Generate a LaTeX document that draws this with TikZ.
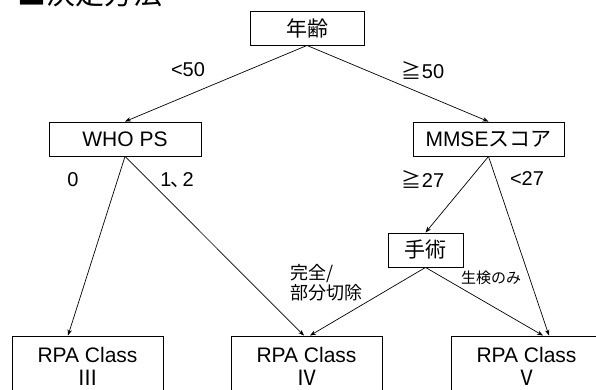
\documentclass[tikz,border=0pt]{standalone}
\usepackage{fontspec}
\setmainfont{Liberation Sans}
\newfontfamily\jp{Noto Sans CJK JP}
\usetikzlibrary{arrows.meta}
\begin{document}
\begin{tikzpicture}[x=1pt,y=-1pt,
  box/.style={draw=black,line width=0.9pt,inner sep=0pt,minimum height=34pt,font=\fontsize{21}{24}\selectfont},
  cbox/.style={draw=black,line width=0.9pt,inner sep=0pt,minimum width=151pt,minimum height=64pt},
  ctext/.style={inner sep=0pt,anchor=base,font=\fontsize{21}{24}\selectfont},
  lbl/.style={inner sep=0pt,font=\fontsize{20}{24}\selectfont},
  slbl/.style={inner sep=0pt,font=\fontsize{18}{20}\selectfont,align=left},
  conn/.style={line width=0.7pt,-{Stealth[length=6pt,width=4.5pt]}}]
\useasboundingbox (0,0) rectangle (596,389);
\clip (0,0) rectangle (596,389);
\fill[white] (0,0) rectangle (596,389);

\node[anchor=base west,inner sep=0pt,font=\fontsize{29}{30}\selectfont] (title) at (17,4.5) {\jp ■決定方法};

\node[box,minimum width=114pt] (age) at (307,28) {\jp 年齢};
\node[box,minimum width=152pt] (who) at (125,139) {WHO PS};
\node[box,minimum width=151pt] (mmse) at (488.5,139) {MMSE\jp スコア};
\node[box,minimum width=75pt] (surg) at (425.5,250) {\jp 手術};

\node[cbox] (c3) at (87.5,368) {};
\node[cbox] (c4) at (306.5,368) {};
\node[cbox] (c5) at (526.5,368) {};
\node[ctext] (c3a) at (87.5,362) {RPA Class};
\node[ctext] (c3b) at (87.5,385) {\jp Ⅲ};
\node[ctext] (c4a) at (306.5,362) {RPA Class};
\node[ctext] (c4b) at (306.5,385) {\jp Ⅳ};
\node[ctext] (c5a) at (526.5,362) {RPA Class};
\node[ctext] (c5b) at (526.5,385) {\jp Ⅴ};

\draw[conn] (age.south) -- (who.north);
\draw[conn] (age.south) -- (mmse.north);
\draw[conn] (who.south) -- ([xshift=-19.5pt]c3.north);
\draw[conn] (who.south) -- ([xshift=-2.5pt]c4.north);
\draw[conn] (mmse.south) -- (surg.north);
\draw[conn] (mmse.south) -- ([xshift=22.5pt]c5.north);
\draw[conn] (surg.south) -- ([xshift=3.5pt]c4.north);
\draw[conn] (surg.south) -- ([xshift=16.5pt]c5.north);

\node[lbl] (l1) at (188,70) {<50};
\node[lbl] (l2) at (423,70) {\jp ≧\rmfamily 50};
\node[lbl] (l3) at (73,180) {0};
\node[lbl] (l4) at (177,180) {1\kern-1pt{\jp 、}\kern-8pt 2};
\node[lbl] (l5) at (423,179) {\jp ≧\rmfamily 27};
\node[lbl] (l6) at (527,179) {<27};
\node[slbl,anchor=west] (l7) at (290,283) {\jp 完全/\\\jp 部分切除};
\node[inner sep=0pt,font=\fontsize{15}{18}\selectfont] (l8) at (491,278) {\jp 生検のみ};
\end{tikzpicture}
\end{document}
